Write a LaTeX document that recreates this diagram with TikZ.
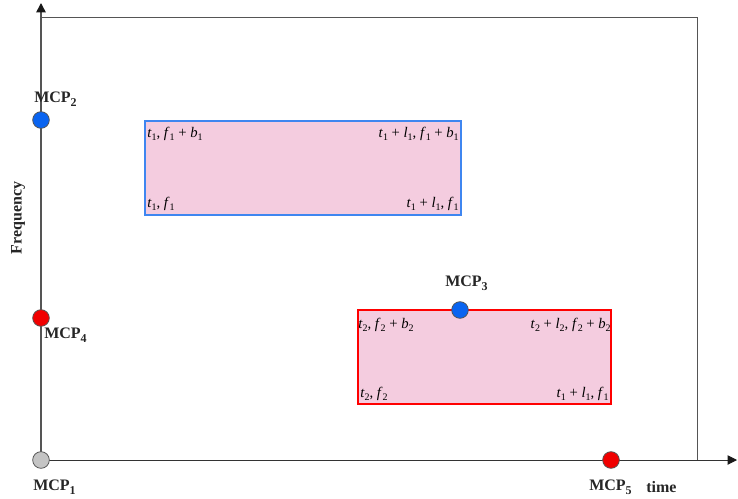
\documentclass[tikz,border=0pt]{standalone}
\usepackage{fontspec}
\setmainfont{Liberation Serif}
\usetikzlibrary{arrows.meta}
\definecolor{boxfill}{HTML}{F4CCDF}
\definecolor{boxblue}{HTML}{3F86F0}
\definecolor{dotblue}{HTML}{0A64F0}
\definecolor{dotred}{HTML}{F00000}
\definecolor{dotgray}{HTML}{C4C4C4}
\definecolor{axisgray}{HTML}{555555}
% lowered small subscripts
\newcommand\lowsub[1]{\raisebox{-0.45ex}{\fontsize{7.5}{8}\selectfont #1}}
\newcommand\tagsub[1]{\raisebox{-0.5ex}{\fontsize{9}{10}\selectfont #1}}
% italic variable with upright subscript
\newcommand\sv[2]{\textit{#1}\lowsub{#2}}
\tikzset{
  mcp/.style={circle, draw=axisgray, line width=0.6pt, minimum size=12.5pt, inner sep=0pt},
  tag/.style={font=\fontsize{12}{13}\selectfont\bfseries, text=black!85, inner sep=0pt},
  corner/.style={font=\fontsize{11}{12}\selectfont, inner sep=0pt},
  region/.style={fill=boxfill, line width=1pt},
  axisarrow/.style={-{Triangle[length=7pt,width=7pt,color=black!90]}},
}
\begin{document}
\begin{tikzpicture}[x=0.75pt, y=-0.75pt]
\useasboundingbox (0,0) rectangle (738,499);

% outer frame
\coordinate (o) at (41,460);
\coordinate (ytop) at (41,3);
\coordinate (xend) at (737,460);
\coordinate (fl) at (41,17);
\coordinate (fr) at (697,17);
\coordinate (fb) at (697,460);
\draw[axisgray, line width=0.7pt] (fl) -- (fr) -- (fb);

% axes
\draw[axisgray, line width=1.1pt, axisarrow] (o) -- (ytop);
\draw[black!80, line width=0.7pt, axisarrow] (o) -- (xend);

% time-frequency regions
\draw[region, draw=boxblue] (145,121) rectangle (461,215);
\draw[region, draw=red] (358,310) rectangle (611,404);

% corner labels, first region
\node[corner, anchor=west] (a1) at (147,134) {\sv{t}{1}, \sv{f}{1} + \sv{b}{1}};
\node[corner, anchor=east] (a2) at (459,134) {\sv{t}{1} + \sv{l}{1}, \sv{f}{1} + \sv{b}{1}};
\node[corner, anchor=west] (a3) at (147,204) {\sv{t}{1}, \sv{f}{1}};
\node[corner, anchor=east] (a4) at (459,204) {\sv{t}{1} + \sv{l}{1}, \sv{f}{1}};

% corner labels, second region
\node[corner, anchor=west] (b1) at (358,325) {\sv{t}{2}, \sv{f}{2} + \sv{b}{2}};
\node[corner, anchor=east] (b2) at (611,325) {\sv{t}{2} + \sv{l}{2}, \sv{f}{2} + \sv{b}{2}};
\node[corner, anchor=west] (b3) at (360,394) {\sv{t}{2}, \sv{f}{2}};
\node[corner, anchor=east] (b4) at (609,394) {\sv{t}{1} + \sv{l}{1}, \sv{f}{1}};

% points
\node[mcp, fill=dotgray] (m1) at (41,460) {};
\node[mcp, fill=dotblue] (m2) at (41,120) {};
\node[mcp, fill=dotblue] (m3) at (460,310) {};
\node[mcp, fill=dotred] (m4) at (41,318) {};
\node[mcp, fill=dotred] (m5) at (611,460) {};

% point labels
\node[tag, anchor=west] (l1) at (33,487) {MCP\tagsub{1}};
\node[tag, anchor=west] (l2) at (34,99) {MCP\tagsub{2}};
\node[tag, anchor=west] (l3) at (445,283) {MCP\tagsub{3}};
\node[tag, anchor=west] (l4) at (44,335) {MCP\tagsub{4}};
\node[tag, anchor=west] (l5) at (589,487) {MCP\tagsub{5}};
\node[tag, anchor=west] (tl) at (646,487) {time};
\node[tag, rotate=90] (fq) at (18,218) {Frequency};
\end{tikzpicture}
\end{document}
